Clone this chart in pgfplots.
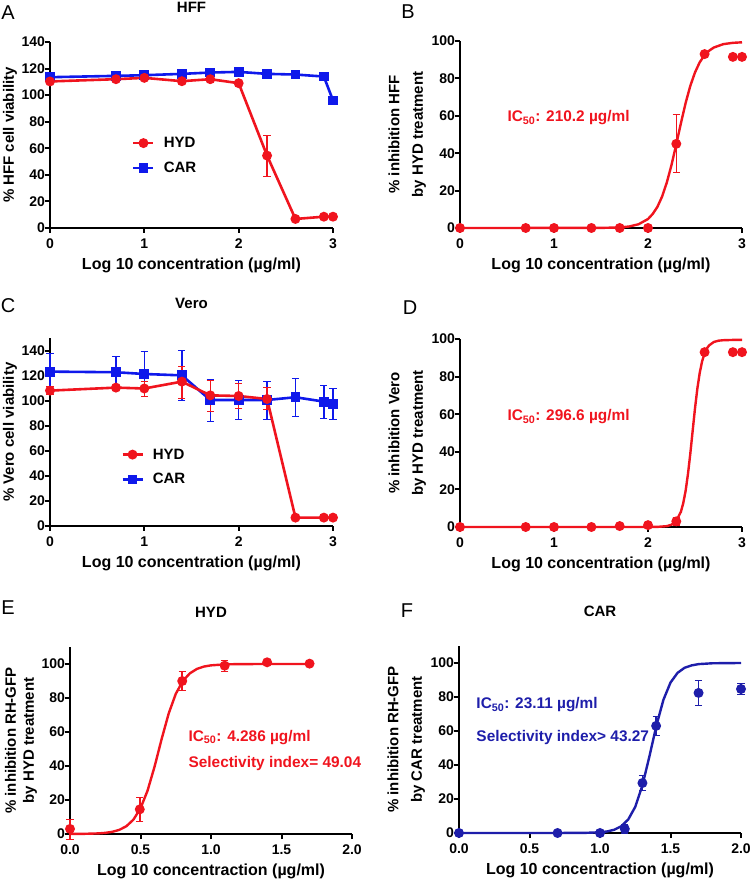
\documentclass[border=0pt]{standalone}
\usepackage{fontspec}
\setmainfont{Liberation Sans}
\usepackage{pgfplots}
\pgfplotsset{compat=1.18}
\definecolor{pred}{RGB}{240,20,30}
\definecolor{pblue}{RGB}{15,25,235}
\definecolor{pnavy}{RGB}{30,30,170}
\newcommand{\lab}{\bfseries\fontsize{15}{23.5}\selectfont}
\newcommand{\ann}{\bfseries\fontsize{15.4}{18}\selectfont}
\pgfplotsset{
 prism/.style={
  scale only axis, clip=false,
  axis lines=left,
  axis line style={-, line width=2.7pt, black},
  tick align=outside, major tick length=5pt,
  every tick/.style={black, line width=2pt},
  xmin=0, ymin=0,
  /pgf/number format/assume math mode=true,
  tick label style={font=\bfseries\fontsize{14}{16}\selectfont},
  xticklabel style={yshift=-2pt},
  yticklabel style={xshift=3.5pt},
  xlabel style={font=\bfseries\fontsize{16}{19}\selectfont, yshift=-3pt},
  ylabel style={font=\lab, align=center, inner sep=2pt},
  title style={font=\bfseries\fontsize{15}{18}\selectfont, at={(axis description cs:0.5,1)}, anchor=center, yshift=29pt},
  xlabel={Log 10 concentration (µg/ml)},
  legend style={draw=none, fill=none, inner sep=0pt, row sep=13pt, column sep=9pt, font=\bfseries\fontsize{15}{18}\selectfont, nodes={inner sep=0pt}},
  legend cell align=left,
  legend image code/.code={\draw[##1, mark repeat=2, mark phase=2] plot coordinates {(0pt,0pt) (10pt,0pt) (20pt,0pt)};},
 },
 hyd/.style={pred, line width=2.6pt, mark=*, mark size=3.6pt, mark options={solid, fill=pred},
   error bars/y dir=both, error bars/y explicit, error bars/error bar style={line width=1.5pt, pred}},
 car/.style={pblue, line width=2.6pt, mark=square*, mark size=3.6pt, mark options={solid, fill=pblue},
   error bars/y dir=both, error bars/y explicit, error bars/error bar style={line width=1.5pt, pblue}},
 navy/.style={pnavy, line width=2.6pt, mark=*, mark size=3.6pt, mark options={solid, fill=pnavy},
   error bars/y dir=both, error bars/y explicit, error bars/error bar style={line width=1.5pt, pnavy}},
 fit/.style={line width=2.4pt, no marks},
}
\begin{document}
\begin{tikzpicture}[x=1pt,y=1pt]
\useasboundingbox (0,0) rectangle (750,883);

% ---------------- A ----------------
\begin{axis}[prism, at={(50pt,655pt)}, anchor=south west, width=283pt, height=186pt,
  xmax=3, ymax=140, xtick={0,1,2,3}, ytick={0,20,...,140},
  ylabel={\% HFF cell viability}, title={HFF}, ylabel style={inner sep=1pt},
  legend style={at={(axis cs:0.869,68.5)}, anchor=north west}, reverse legend]
\addplot[car] coordinates {(0,113.5) (0.699,114.5) (1,115) (1.398,116) (1.699,117) (2,117.5) (2.301,116) (2.602,115.5) (2.903,114) (3,96)};
\addlegendentry{CAR}
\addplot[hyd] coordinates {(0,110.3) (0.699,112) (1,113) (1.398,110.5) (1.699,112) (2,109) +- (0,2.5) (2.301,54.5) +- (0,15.5) (2.602,6.8) (2.903,8.5) (3,8.5)};
\addlegendentry{HYD}
\end{axis}

% ---------------- B ----------------
\begin{axis}[prism, at={(460pt,655pt)}, anchor=south west, width=282pt, height=187pt,
  xmax=3, ymax=100, xtick={0,1,2,3}, ytick={0,20,...,100},
  ylabel={\% inhibition HFF\\by HYD treatment}]
\addplot[pred, fit] coordinates {(0,0) (1.5,0.05) (1.7,0.3) (1.8,0.8) (1.9,2.0) (2.0,4.8) (2.05,7.5) (2.1,11.3) (2.15,16.8) (2.2,24.3) (2.25,33.7) (2.3,44.6) (2.35,56.0) (2.4,66.8) (2.45,76.0) (2.5,83.2) (2.55,88.6) (2.6,92.3) (2.65,94.8) (2.7,96.5) (2.8,98.3) (2.9,99.0) (3.0,99.3)};
\addplot[hyd, only marks] coordinates {(0,0) (0.699,0) (1,0) (1.398,0) (1.699,0) (2,0) (2.301,45) += (0,16) -= (0,15) (2.602,93) (2.903,91.5) (3,91.5)};
\node[anchor=west, text=pred, font=\ann] at (axis cs:0.468,58.8) {IC\textsubscript{50}: 210.2 µg/ml};
\end{axis}

% ---------------- C ----------------
\begin{axis}[prism, at={(50pt,357pt)}, anchor=south west, width=283pt, height=187.5pt,
  xmax=3, ymax=150, xtick={0,1,2,3}, ytick={0,20,...,140},
  ylabel={\% Vero cell viability}, title={Vero}, ylabel style={inner sep=1pt},
  legend style={at={(axis cs:0.753,62)}, anchor=north west}, reverse legend]
\addplot[car] coordinates {(0,123.5) +- (0,14.5) (0.699,123) +- (0,13) (1,121.6) += (0,18) -= (0,17.6) (1.398,120.5) += (0,20) -= (0,19.5) (1.699,100.8) +- (0,17) (2,100.8) +- (0,15.6) (2.301,100.8) +- (0,15) (2.602,103) +- (0,15.5) (2.903,99.5) +- (0,13.5) (3,97.6) +- (0,12.5)};
\addlegendentry{CAR}
\addplot[hyd] coordinates {(0,108.3) += (0,3.5) -= (0,3) (0.699,110.7) (1,110) +- (0,6) (1.398,115.5) += (0,12.5) -= (0,13.5) (1.699,104.5) +- (0,12.5) (2,104) +- (0,10) (2.301,101.6) += (0,9.5) -= (0,8.5) (2.602,6.7) (2.903,6.7) (3,6.7)};
\addlegendentry{HYD}
\end{axis}

% ---------------- D ----------------
\begin{axis}[prism, at={(460pt,356pt)}, anchor=south west, width=282pt, height=188pt,
  xmax=3, ymax=100, xtick={0,1,2,3}, ytick={0,20,...,100},
  ylabel={\% inhibition Vero\\by HYD treatment}]
\addplot[pred, fit] coordinates {(0,0) (2.0,0.01) (2.1,0.06) (2.2,0.45) (2.25,1.2) (2.3,3.2) (2.35,8.1) (2.375,12.7) (2.4,19.2) (2.425,28.1) (2.45,39.0) (2.475,51.1) (2.5,63.1) (2.525,73.6) (2.55,81.9) (2.575,88.0) (2.6,92.2) (2.625,94.9) (2.65,96.6) (2.7,98.4) (2.75,99.1) (2.8,99.35) (2.9,99.5) (3,99.5)};
\addplot[hyd, only marks] coordinates {(0,0) (0.699,0) (1,0) (1.398,0) (1.699,0.5) (2,1) (2.301,3) +- (0,2) (2.602,93) (2.903,93) (3,93)};
\node[anchor=west, text=pred, font=\ann] at (axis cs:0.468,58.5) {IC\textsubscript{50}: 296.6 µg/ml};
\end{axis}

% ---------------- E ----------------
\begin{axis}[prism, at={(70pt,49pt)}, anchor=south west, width=282pt, height=187pt,
  xmax=2, ymax=110, xtick={0,0.5,...,2}, ytick={0,20,...,100},
  xticklabel style={/pgf/number format/.cd, fixed, fixed zerofill, precision=1},
  xlabel={Log 10 concentraction (µg/ml)},
  ylabel style={font=\bfseries\fontsize{15}{18}\selectfont, inner sep=1pt},
  ylabel={\% inhibition RH-GFP\\by HYD treatment}, title={HYD}]
\addplot[pred, fit] coordinates {(0,0.03) (0.1,0.1) (0.2,0.35) (0.25,0.67) (0.3,1.28) (0.35,2.44) (0.4,4.59) (0.45,8.47) (0.5,15.1) (0.55,25.5) (0.6,39.7) (0.65,55.9) (0.7,70.9) (0.75,82.4) (0.8,90.0) (0.85,94.5) (0.9,97.1) (0.95,98.5) (1.0,99.2) (1.1,99.8) (1.2,99.94) (1.4,100) (1.7,100)};
\addplot[hyd, only marks] coordinates {(0,3) +- (0,5.8) (0.495,14.5) +- (0,7.2) (0.796,90) +- (0,5.5) (1.097,99) +- (0,3.5) (1.398,101) (1.699,100.2)};
\node[anchor=west, text=pred, font=\ann] at (axis cs:0.816,57) {IC\textsubscript{50}: 4.286 µg/ml};
\node[anchor=west, text=pred, font=\ann] at (axis cs:0.816,41.2) {Selectivity index= 49.04};
\end{axis}

% ---------------- F ----------------
\begin{axis}[prism, at={(459pt,50pt)}, anchor=south west, width=282pt, height=187pt,
  xmax=2, ymax=110, xtick={0,0.5,...,2}, ytick={0,20,...,100},
  xticklabel style={/pgf/number format/.cd, fixed, fixed zerofill, precision=1},
  xlabel={Log 10 concentraction (µg/ml)},
  ylabel={\% inhibition RH-GFP\\by CAR treatment}, title={CAR}]
\addplot[pnavy, fit] coordinates {(0,0) (0.7,0.01) (0.9,0.1) (1.0,0.43) (1.05,0.9) (1.1,1.89) (1.15,3.92) (1.2,7.93) (1.25,15.4) (1.3,27.8) (1.35,44.9) (1.4,63.2) (1.45,78.4) (1.5,88.5) (1.55,94.2) (1.6,97.2) (1.65,98.6) (1.7,99.35) (1.8,99.85) (2.0,100)};
\addplot[navy, only marks] coordinates {(0,0) (0.699,0) (1,0) (1.176,2.4) += (0,3) -= (0,2.4) (1.301,29.4) +- (0,4.5) (1.398,63) +- (0,5.5) (1.699,82.4) +- (0,7.5) (2,84.7) +- (0,3.3)};
\node[anchor=west, text=pnavy, font=\ann] at (axis cs:0.099,75.3) {IC\textsubscript{50}: 23.11 µg/ml};
\node[anchor=west, text=pnavy, font=\ann] at (axis cs:0.099,55.9) {Selectivity index> 43.27};
\end{axis}

% panel letters
\node[font=\fontsize{20}{24}\selectfont] at (8,870.5) {A};
\node[font=\fontsize{20}{24}\selectfont] at (408,871) {B};
\node[font=\fontsize{20}{24}\selectfont] at (8,577) {C};
\node[font=\fontsize{20}{24}\selectfont] at (410,575) {D};
\node[font=\fontsize{20}{24}\selectfont] at (8,275.5) {E};
\node[font=\fontsize{20}{24}\selectfont] at (407,272.5) {F};
\end{tikzpicture}
\end{document}
